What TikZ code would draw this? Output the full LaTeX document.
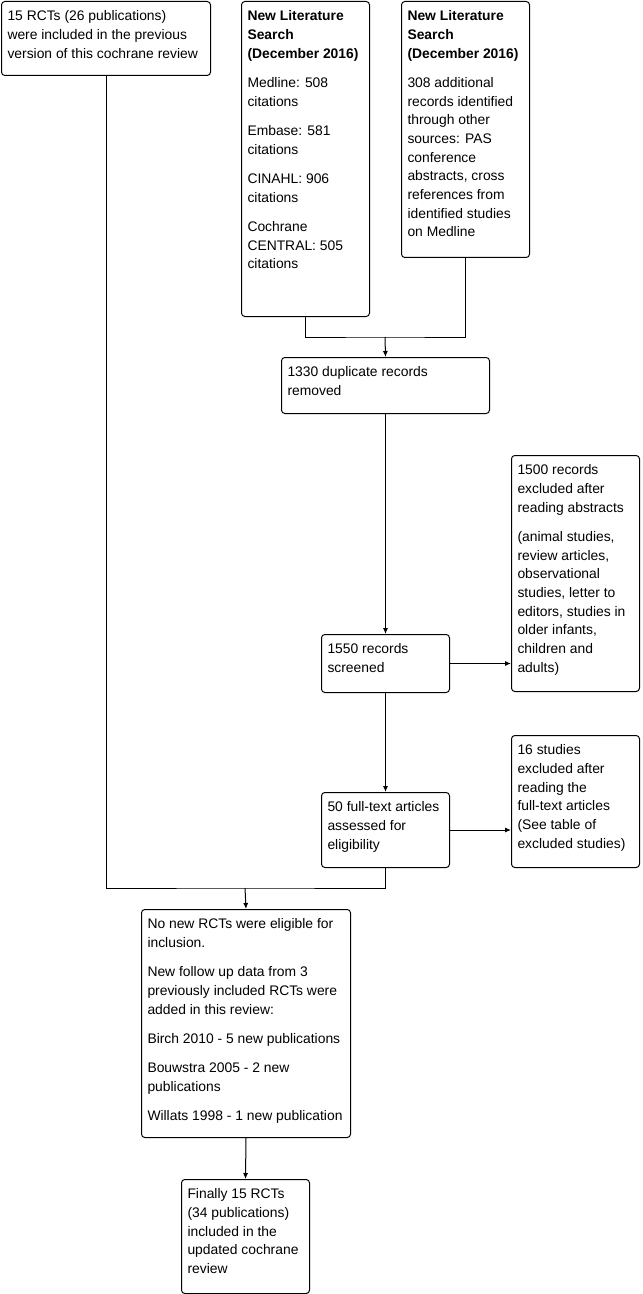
\documentclass[tikz,border=0pt]{standalone}
\usepackage{fontspec}
\setmainfont{Liberation Sans}
\usepackage{tikz}
\usetikzlibrary{calc,arrows.meta}
\newlength{\pxu}\setlength{\pxu}{0.75pt}
% text of a box: width and height in px, top aligned
\newcommand{\boxtxt}[3]{\parbox[t][#2\pxu][t]{#1\pxu}{\raggedright\fontsize{10.4pt}{14pt}\selectfont\rule{0pt}{14.6pt}#3}}
\newcommand{\pgap}{\\[8pt]}

\begin{document}
\begin{tikzpicture}[x=0.75pt, y=-0.75pt, line width=0.75pt, >={Latex[length=4.5pt,width=3.8pt]},
    box/.style={draw, rounded corners=2.5pt, anchor=north west, inner xsep=4.5pt, inner ysep=0pt}]
    \useasboundingbox (0,0) rectangle (642,1294);
    % earlier review
    \node[box] (prev) at (1,1) {\boxtxt{197}{74}{15 RCTs (26 publications)\\ were included in the previous\\ version of this cochrane review}};
    % database search
    \node[box] (medline) at (241,1) {\boxtxt{116}{315}{{\bfseries New Literature\\ Search\\ (December 2016)}\pgap Medline: 508\\ citations\pgap Embase: 581\\ citations\pgap CINAHL: 906\\ citations\pgap Cochrane\\ CENTRAL: 505\\ citations}};
    % other sources
    \node[box] (other) at (401,1) {\boxtxt{116}{256}{{\bfseries New Literature\\ Search\\ (December 2016)}\pgap 308 additional\\ records identified\\ through other\\ sources: PAS\\ conference\\ abstracts, cross\\ references from\\ identified studies\\ on Medline}};
    % duplicates
    \node[box] (dup) at (281,357) {\boxtxt{196}{56}{1330 duplicate records\\ removed}};
    % screening
    \node[box] (screen) at (321,634) {\boxtxt{116}{58}{1550 records\\ screened}};
    \node[box] (exclabs) at (511,455) {\boxtxt{116}{236}{1500 records\\ excluded after\\ reading abstracts\pgap (animal studies,\\ review articles,\\ observational\\ studies, letter to\\ editors, studies in\\ older infants,\\ children and\\ adults)}};
    % full text
    \node[box] (fulltext) at (321,792) {\boxtxt{116}{75}{50 full-text articles\\ assessed for\\ eligibility}};
    \node[box] (exclfull) at (511,735) {\boxtxt{116}{132}{16 studies\\ excluded after\\ reading the\\ full-text articles\\ (See table of\\ excluded studies)}};
    % result
    \node[box] (newdata) at (141,909) {\boxtxt{197}{228}{No new RCTs were eligible for\\ inclusion.\pgap New follow up data from 3\\ previously included RCTs were\\ added in this review:\pgap Birch 2010 - 5 new publications\pgap Bouwstra 2005 - 2 new\\ publications\pgap Willats 1998 - 1 new publication}};
    \node[box] (final) at (181,1179) {\boxtxt{116}{114}{Finally 15 RCTs\\ (34 publications)\\ included in the\\ updated cochrane\\ review}};
    % connectors
    \coordinate (topjoin) at (385,337);
    \draw (medline.south) |- (topjoin) -| (other.south);
    \draw[->] (topjoin) -- (dup.north);
    \draw[->] (dup.south) -- (screen.north);
    \draw[->] (screen.east) -- (screen.east -| exclabs.west);
    \draw[->] (screen.south) -- (fulltext.north);
    \draw[->] (fulltext.east) -- (fulltext.east -| exclfull.west);
    \coordinate (botjoin) at (245,888);
    \draw (prev.south) |- (botjoin) -| (fulltext.south);
    \draw[->] (botjoin) -- (newdata.north);
    \draw[->] (newdata.south) -- (final.north);
\end{tikzpicture}
\end{document}
